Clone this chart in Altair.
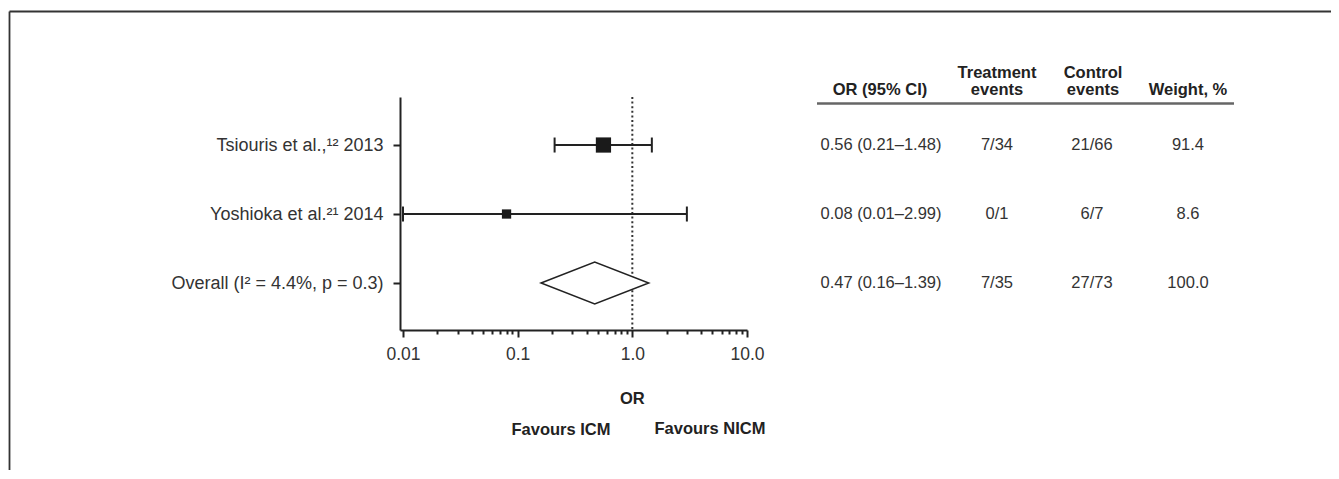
import json
import altair as alt
import pandas as pd

# ---------------- data ----------------
studies = ["Tsiouris et al.,\u00b9\u00b2 2013", "Yoshioka et al.\u00b2\u00b9 2014", "Overall (I\u00b2 = 4.4%, p = 0.3)"]
rows = [1, 2, 3]
odds_ratio = [0.56, 0.08, 0.47]
ci_low = [0.21, 0.01, 0.16]
ci_high = [1.48, 2.99, 1.39]
treatment_events = ["7/34", "0/1", "7/35"]
control_events = ["21/66", "6/7", "27/73"]
weights = [91.4, 8.6, 100.0]
is_pooled = [False, False, True]
x_tick_values = [0.01, 0.02, 0.03, 0.04, 0.05, 0.06, 0.07, 0.08, 0.09,
                 0.1, 0.2, 0.3, 0.4, 0.5, 0.6, 0.7, 0.8, 0.9,
                 1, 2, 3, 4, 5, 6, 7, 8, 9, 10]
x_major = [0.01, 0.1, 1, 10]
x_major_labels = ["0.01", "0.1", "1.0", "10.0"]

# ---------------- layout ----------------
FONT = "Liberation Sans"
INK = "#222222"
PAD_L, PAD_T = 392, 89
W, H = 347, 233
TOTAL_W, TOTAL_H = 1323, 462

df = pd.DataFrame({
    "row": rows,
    "study": studies,
    "or": odds_ratio,
    "lo": ci_low,
    "hi": ci_high,
    "w": weights,
    "pooled": is_pooled,
    "treat": treatment_events,
    "ctrl": control_events,
})
df["or_text"] = [f"{o:.2f} ({l:.2f}\u2013{h:.2f})" for o, l, h in zip(odds_ratio, ci_low, ci_high)]
df["w_text"] = [f"{w:.1f}" for w in weights]
studies_df = df[~df["pooled"]]
pooled_df = df[df["pooled"]]

# diamond outline for the pooled estimate
half_h = 0.304
p = pooled_df.iloc[0]
diamond_df = pd.DataFrame({
    "x": [p["lo"], p["or"], p["hi"]],
    "y": [p["row"], p["row"] - half_h, p["row"]],
    "y2": [p["row"], p["row"] + half_h, p["row"]],
})

major_test = " || ".join(f"datum.value === {v}" for v in x_major)
label_expr = " : ".join(f"datum.value === {v} ? '{s}'" for v, s in zip(x_major, x_major_labels)) + " : ''"

xs = alt.Scale(type="log", domain=[0.00942, 10], nice=False)
ys = alt.Scale(domain=[0.304, 3.681], reverse=True, nice=False, zero=False)

x_axis = alt.Axis(
    values=x_tick_values, labelExpr=label_expr, title=None, grid=False,
    domainColor=INK, domainWidth=2, tickColor=INK, tickWidth=2,
    tickSize={"condition": {"test": major_test, "value": 7}, "value": 4},
    labelFontSize=17.5, labelColor="#333333", labelFont=FONT, labelPadding=8,
    labelOverlap=False, labelFlush=False,
)
y_axis = alt.Axis(
    values=rows, title=None, grid=False,
    labelExpr=json.dumps(studies, ensure_ascii=False) + "[datum.value - 1]",
    domainColor=INK, domainWidth=2, tickColor=INK, tickWidth=2, tickSize=7,
    labelFontSize=18, labelColor="#333333", labelFont=FONT, labelPadding=10,
    labelLimit=0,
)

X = lambda f: alt.X(f, type="quantitative", scale=xs, axis=x_axis)
Y = lambda f: alt.Y(f, type="quantitative", scale=ys, axis=y_axis)

ci = alt.Chart(studies_df).mark_rule(color=INK, strokeWidth=2).encode(
    x=X("lo"), x2="hi", y=Y("row"))

caps = alt.Chart(studies_df).transform_fold(["lo", "hi"], as_=["end", "val"]).mark_tick(
    color=INK, thickness=2, size=15, orient="vertical", opacity=1).encode(
    x=X("val"), y=Y("row"))

squares = alt.Chart(studies_df).mark_square(color="#1a1a1a", filled=True, opacity=1).encode(
    x=X("or"), y=Y("row"),
    size=alt.Size("w:Q", scale=alt.Scale(domain=[8.6, 91.4], range=[86, 232]), legend=None))

diamond = alt.Chart(diamond_df).mark_area(
    fill="white", stroke=INK, strokeWidth=1.5, opacity=1, fillOpacity=1).encode(
    x=X("x"), y=Y("y"), y2="y2")

null_line = alt.Chart(pd.DataFrame({"v": [1.0]})).mark_rule(
    color="#333333", strokeWidth=2, strokeDash=[2, 2.6]).encode(x=X("v"))

# axis annotations under the plot
one = pd.DataFrame({"v": [1.0]})
or_title = alt.Chart(one).mark_text(text="OR", font=FONT, fontSize=16.5, fontWeight="bold",
                                    color=INK, baseline="middle").encode(
    x=X("v"), y=alt.value(302))
fav_icm = alt.Chart(one).mark_text(text="Favours ICM", font=FONT, fontSize=16.5, fontWeight="bold",
                                   color=INK, baseline="middle").encode(
    x=alt.value(161), y=alt.value(333))
fav_nicm = alt.Chart(one).mark_text(text="Favours NICM", font=FONT, fontSize=16.5, fontWeight="bold",
                                    color=INK, baseline="middle").encode(
    x=alt.value(310), y=alt.value(332))

# table columns
def col(field, xpx):
    return alt.Chart(df).mark_text(font=FONT, fontSize=16.5, color="#333333",
                                   baseline="middle", align="center").encode(
        x=alt.value(xpx), y=Y("row"), text=alt.Text(f"{field}:N"))

tbl = [col("or_text", 481), col("treat", 597), col("ctrl", 692), col("w_text", 788)]

def header(txt, xpx, ypx):
    return alt.Chart(one).mark_text(text=txt, font=FONT, fontSize=16.5, fontWeight="bold",
                                    color=INK, baseline="middle", align="center").encode(
        x=alt.value(xpx), y=alt.value(ypx))

headers = [
    header("OR (95% CI)", 480, -7),
    header("Treatment", 597, -24), header("events", 597, -7),
    header("Control", 693, -24), header("events", 693, -7),
    header("Weight, %", 788, -7),
]
underline = alt.Chart(one).mark_rule(color="#666666", strokeWidth=2.5).encode(
    x=alt.value(417), x2=alt.value(834), y=alt.value(6.5))

# figure frame (top and left edges)
frame_top = alt.Chart(one).mark_rule(color="#333333", strokeWidth=1.8).encode(
    x=alt.value(-390.5), x2=alt.value(TOTAL_W - PAD_L), y=alt.value(-85.5))
frame_left = alt.Chart(one).mark_rule(color="#333333", strokeWidth=1.8).encode(
    x=alt.value(-390.5), y=alt.value(-85.5), y2=alt.value(TOTAL_H - PAD_T))

chart = alt.layer(
    null_line, ci, caps, squares, diamond,
    or_title, fav_icm, fav_nicm, *tbl, *headers, underline, frame_top, frame_left,
).properties(
    width=W, height=H,
    autosize=alt.AutoSizeParams(type="none"),
    padding={"left": PAD_L, "top": PAD_T, "right": TOTAL_W - PAD_L - W, "bottom": TOTAL_H - PAD_T - H},
).configure(font=FONT).configure_view(stroke="transparent", strokeWidth=0)

chart.save("out.html", embed_options={"renderer": "svg", "actions": False})
